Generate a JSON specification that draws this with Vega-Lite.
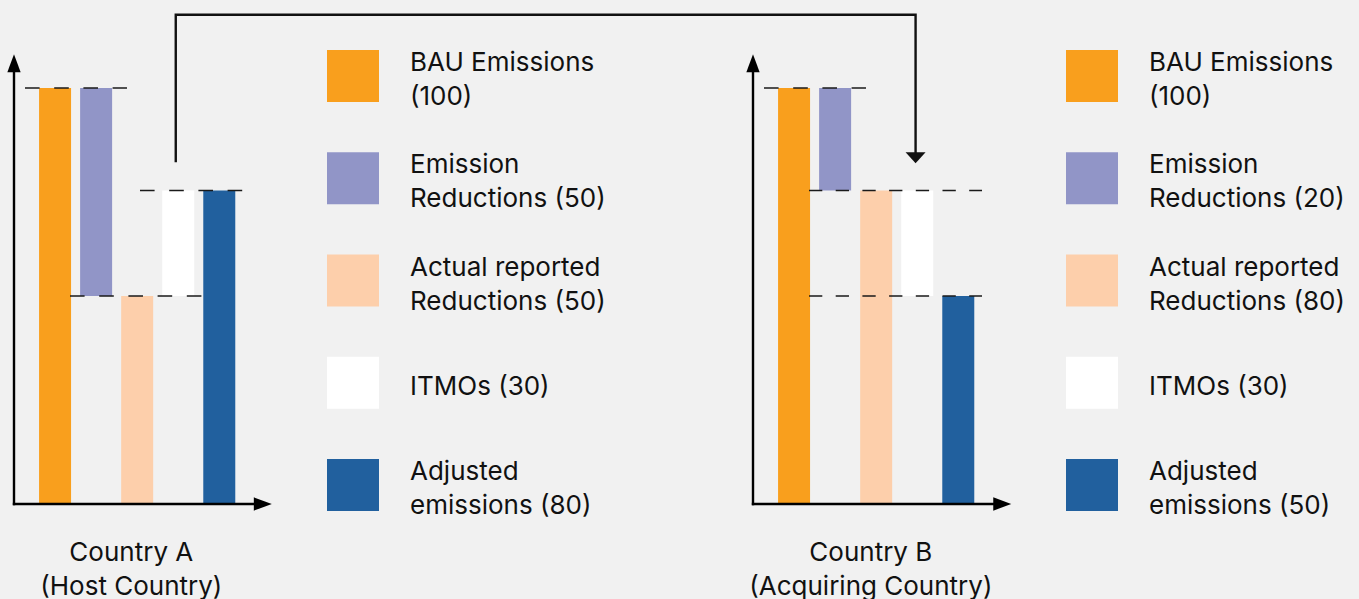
{
  "$schema": "https://vega.github.io/schema/vega-lite/v6.json",
  "width": 1359,
  "height": 599,
  "autosize": {"type": "none"},
  "padding": 0,
  "background": "#f1f1f1",
  "config": {
    "view": {"stroke": null},
    "axis": {"disable": true},
    "legend": {"disable": true},
    "font": "Inter"
  },
  "datasets": {
    "bars": [
      {"country": "Country A", "series": "BAU Emissions", "slot": 1, "low": 0, "high": 100},
      {"country": "Country A", "series": "Emission Reductions", "slot": 2, "low": 50, "high": 100},
      {"country": "Country A", "series": "Actual reported Reductions", "slot": 3, "low": 0, "high": 50},
      {"country": "Country A", "series": "ITMOs", "slot": 4, "low": 50, "high": 80},
      {"country": "Country A", "series": "Adjusted emissions", "slot": 5, "low": 0, "high": 80},
      {"country": "Country B", "series": "BAU Emissions", "slot": 19, "low": 0, "high": 100},
      {"country": "Country B", "series": "Emission Reductions", "slot": 20, "low": 80, "high": 100},
      {"country": "Country B", "series": "Actual reported Reductions", "slot": 21, "low": 0, "high": 80},
      {"country": "Country B", "series": "ITMOs", "slot": 22, "low": 50, "high": 80},
      {"country": "Country B", "series": "Adjusted emissions", "slot": 23, "low": 0, "high": 50}
    ],
    "guides": [
      {"country": "Country A", "level": 100, "start": 0.268, "end": 2.752},
      {"country": "Country A", "level": 80, "start": 3.069, "end": 5.56},
      {"country": "Country A", "level": 50, "start": 1.364, "end": 4.596},
      {"country": "Country B", "level": 100, "start": 18.268, "end": 20.752}
    ],
    "guidesB": [
      {"country": "Country B", "level": 80, "start": 19.364, "end": 23.578},
      {"country": "Country B", "level": 50, "start": 19.364, "end": 23.578}
    ],
    "axes": [
      {"country": "Country A", "start": 0, "end": 0, "low": 0, "high": 104},
      {"country": "Country A", "start": 0, "end": 6.0, "low": 0, "high": 0},
      {"country": "Country B", "start": 18, "end": 18, "low": 0, "high": 104},
      {"country": "Country B", "start": 18, "end": 24.0, "low": 0, "high": 0}
    ],
    "axisTips": [
      {"country": "Country A", "direction": "up", "at": 0, "level": 106.6},
      {"country": "Country A", "direction": "right", "at": 6.28, "level": 0},
      {"country": "Country B", "direction": "up", "at": 18, "level": 106.6},
      {"country": "Country B", "direction": "right", "at": 24.29, "level": 0}
    ],
    "transfer": [
      {"step": 1, "at": 3.94, "level": 85.5},
      {"step": 2, "at": 3.94, "level": 114.3},
      {"step": 3, "at": 21.96, "level": 114.3},
      {"step": 4, "at": 21.96, "level": 87.3}
    ],
    "transferTip": [
      {"at": 21.96, "level": 85.31}
    ],
    "captions": [
      {"country": "Country A", "caption": "Country A\n(Host Country)", "at": 2.857, "level": -13.63},
      {"country": "Country B", "caption": "Country B\n(Acquiring Country)", "at": 20.87, "level": -13.63}
    ],
    "legend": [
      {"country": "Country A", "series": "BAU Emissions", "label": "BAU Emissions\n(100)"},
      {"country": "Country A", "series": "Emission Reductions", "label": "Emission\nReductions (50)"},
      {"country": "Country A", "series": "Actual reported Reductions", "label": "Actual reported\nReductions (50)"},
      {"country": "Country A", "series": "ITMOs", "label": "ITMOs (30)"},
      {"country": "Country A", "series": "Adjusted emissions", "label": "Adjusted\nemissions (80)"},
      {"country": "Country B", "series": "BAU Emissions", "label": "BAU Emissions\n(100)"},
      {"country": "Country B", "series": "Emission Reductions", "label": "Emission\nReductions (20)"},
      {"country": "Country B", "series": "Actual reported Reductions", "label": "Actual reported\nReductions (80)"},
      {"country": "Country B", "series": "ITMOs", "label": "ITMOs (30)"},
      {"country": "Country B", "series": "Adjusted emissions", "label": "Adjusted\nemissions (50)"}
    ]
  },
  "layer": [
    {
      "layer": [
        {
          "data": {"name": "bars"},
          "mark": {"type": "bar", "width": 32, "strokeWidth": 0},
          "encoding": {
            "x": {"field": "slot", "type": "quantitative", "scale": {"domain": [0, 18], "range": [14, 753], "nice": false, "zero": false, "padding": 0}},
            "y": {"field": "low", "type": "quantitative", "scale": {"domain": [0, 50, 80, 100], "range": [504, 296, 190.5, 88], "nice": false, "zero": false, "padding": 0}},
            "y2": {"field": "high"},
            "color": {
              "field": "series",
              "type": "nominal",
              "scale": {
                "domain": ["BAU Emissions", "Emission Reductions", "Actual reported Reductions", "ITMOs", "Adjusted emissions"],
                "range": ["#f99f1d", "#9195c7", "#fdcfab", "#ffffff", "#21609e"]
              }
            }
          }
        },
        {
          "data": {"name": "guides"},
          "mark": {"type": "rule", "color": "#1a1a1a", "strokeWidth": 1.5, "strokeDash": [14.6, 14.6]},
          "encoding": {
            "x": {"field": "start", "type": "quantitative", "scale": {"domain": [0, 18], "range": [14, 753], "nice": false, "zero": false, "padding": 0}},
            "x2": {"field": "end"},
            "y": {"field": "level", "type": "quantitative", "scale": {"domain": [0, 50, 80, 100], "range": [504, 296, 190.5, 88], "nice": false, "zero": false, "padding": 0}}
          }
        },
        {
          "data": {"name": "guidesB"},
          "mark": {"type": "rule", "color": "#1a1a1a", "strokeWidth": 1.5, "strokeDash": [13.3, 13.4]},
          "encoding": {
            "x": {"field": "start", "type": "quantitative", "scale": {"domain": [0, 18], "range": [14, 753], "nice": false, "zero": false, "padding": 0}},
            "x2": {"field": "end"},
            "y": {"field": "level", "type": "quantitative", "scale": {"domain": [0, 50, 80, 100], "range": [504, 296, 190.5, 88], "nice": false, "zero": false, "padding": 0}}
          }
        },
        {
          "data": {"name": "axes"},
          "mark": {"type": "rule", "color": "#000000", "strokeWidth": 2.4, "strokeCap": "square"},
          "encoding": {
            "x": {"field": "start", "type": "quantitative", "scale": {"domain": [0, 18], "range": [14, 753], "nice": false, "zero": false, "padding": 0}},
            "x2": {"field": "end"},
            "y": {"field": "low", "type": "quantitative", "scale": {"domain": [0, 50, 80, 100], "range": [504, 296, 190.5, 88], "nice": false, "zero": false, "padding": 0}},
            "y2": {"field": "high"}
          }
        },
        {
          "data": {"name": "axisTips"},
          "transform": [{"filter": "datum.direction === 'up'"}],
          "mark": {"type": "point", "shape": "M0,0L-0.74,2L0.74,2Z", "size": 324, "filled": true, "color": "#000000", "opacity": 1, "strokeWidth": 0},
          "encoding": {
            "x": {"field": "at", "type": "quantitative", "scale": {"domain": [0, 18], "range": [14, 753], "nice": false, "zero": false, "padding": 0}},
            "y": {"field": "level", "type": "quantitative", "scale": {"domain": [0, 50, 80, 100], "range": [504, 296, 190.5, 88], "nice": false, "zero": false, "padding": 0}}
          }
        },
        {
          "data": {"name": "axisTips"},
          "transform": [{"filter": "datum.direction === 'right'"}],
          "mark": {"type": "point", "shape": "M0,0L-2,-0.74L-2,0.74Z", "size": 324, "filled": true, "color": "#000000", "opacity": 1, "strokeWidth": 0},
          "encoding": {
            "x": {"field": "at", "type": "quantitative", "scale": {"domain": [0, 18], "range": [14, 753], "nice": false, "zero": false, "padding": 0}},
            "y": {"field": "level", "type": "quantitative", "scale": {"domain": [0, 50, 80, 100], "range": [504, 296, 190.5, 88], "nice": false, "zero": false, "padding": 0}}
          }
        },
        {
          "data": {"name": "transfer"},
          "mark": {"type": "line", "color": "#111111", "strokeWidth": 2.4, "strokeJoin": "miter", "strokeCap": "butt"},
          "encoding": {
            "x": {"field": "at", "type": "quantitative", "scale": {"domain": [0, 18], "range": [14, 753], "nice": false, "zero": false, "padding": 0}},
            "y": {"field": "level", "type": "quantitative", "scale": {"domain": [0, 50, 80, 100], "range": [504, 296, 190.5, 88], "nice": false, "zero": false, "padding": 0}},
            "order": {"field": "step", "type": "quantitative"}
          }
        },
        {
          "data": {"name": "transferTip"},
          "mark": {"type": "point", "shape": "M0,0L-1,-1.1L1,-1.1Z", "size": 400, "filled": true, "color": "#111111", "opacity": 1, "strokeWidth": 0},
          "encoding": {
            "x": {"field": "at", "type": "quantitative", "scale": {"domain": [0, 18], "range": [14, 753], "nice": false, "zero": false, "padding": 0}},
            "y": {"field": "level", "type": "quantitative", "scale": {"domain": [0, 50, 80, 100], "range": [504, 296, 190.5, 88], "nice": false, "zero": false, "padding": 0}}
          }
        },
        {
          "data": {"name": "captions"},
          "mark": {"type": "text", "align": "center", "baseline": "alphabetic", "lineBreak": "\n", "lineHeight": 34, "fontSize": 26, "font": "Inter", "color": "#111111"},
          "encoding": {
            "x": {"field": "at", "type": "quantitative", "scale": {"domain": [0, 18], "range": [14, 753], "nice": false, "zero": false, "padding": 0}},
            "y": {"field": "level", "type": "quantitative", "scale": {"domain": [0, 50, 80, 100], "range": [504, 296, 190.5, 88], "nice": false, "zero": false, "padding": 0}},
            "text": {"field": "caption", "type": "nominal"}
          }
        }
      ]
    },
    {
      "data": {"name": "legend"},
      "encoding": {
        "x": {"field": "country", "type": "nominal", "scale": {"type": "point", "domain": ["Country A", "Country B"], "range": [353, 1092], "padding": 0}},
        "y": {"field": "series", "type": "nominal", "scale": {"type": "point", "domain": ["BAU Emissions", "Emission Reductions", "Actual reported Reductions", "ITMOs", "Adjusted emissions"], "range": [76, 485], "padding": 0}}
      },
      "layer": [
        {
          "mark": {"type": "square", "size": 2704, "filled": true, "opacity": 1, "strokeWidth": 0},
          "encoding": {
            "color": {"field": "series", "type": "nominal"}
          }
        },
        {
          "transform": [{"filter": "indexof(datum.label, '\\n') >= 0"}],
          "mark": {"type": "text", "align": "left", "baseline": "middle", "dx": 57, "dy": -13, "lineBreak": "\n", "lineHeight": 34, "fontSize": 26, "font": "Inter", "color": "#111111"},
          "encoding": {
            "text": {"field": "label", "type": "nominal"}
          }
        },
        {
          "transform": [{"filter": "indexof(datum.label, '\\n') < 0"}],
          "mark": {"type": "text", "align": "left", "baseline": "middle", "dx": 57, "dy": 4, "fontSize": 26, "font": "Inter", "color": "#111111"},
          "encoding": {
            "text": {"field": "label", "type": "nominal"}
          }
        }
      ]
    }
  ],
  "resolve": {"scale": {"x": "independent", "y": "independent"}}
}
